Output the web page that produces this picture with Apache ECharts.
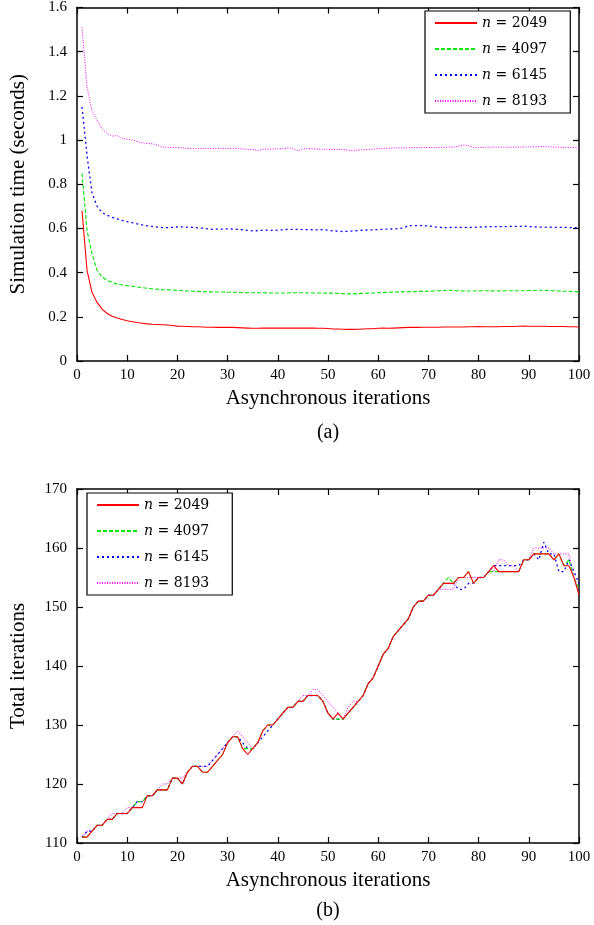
<!DOCTYPE html>
<html>
<head>
<meta charset="utf-8">
<script src="https://cdn.jsdelivr.net/npm/echarts@6/dist/echarts.min.js"></script>
<style>
  html, body { margin: 0; padding: 0; background: #fff; }
  #chart { width: 594px; height: 925px; }
</style>
</head>
<body>
<div id="chart"></div>
<script>
// x = 1..100 (asynchronous iterations)
const names = ['n = 2049', 'n = 4097', 'n = 6145', 'n = 8193'];

// (a) simulation time (seconds)
const time2049 = [0.68,0.41,0.31,0.265,0.235,0.215,0.203,0.195,0.188,0.182,0.178,0.174,0.171,0.168,0.166,0.165,0.164,0.163,0.161,0.158,
  0.157,0.156,0.155,0.155,0.154,0.153,0.153,0.152,0.152,0.152,0.152,0.151,0.150,0.149,0.148,0.148,0.149,0.149,0.149,0.149,
  0.149,0.149,0.149,0.149,0.149,0.149,0.149,0.148,0.148,0.147,0.145,0.145,0.144,0.143,0.143,0.144,0.145,0.146,0.146,0.148,
  0.149,0.148,0.149,0.150,0.151,0.152,0.152,0.152,0.153,0.153,0.153,0.153,0.154,0.154,0.154,0.154,0.154,0.155,0.155,0.156,
  0.155,0.155,0.155,0.155,0.156,0.156,0.156,0.157,0.158,0.157,0.157,0.157,0.157,0.156,0.156,0.156,0.156,0.155,0.155,0.154];
const time4097 = [0.85,0.59,0.485,0.41,0.38,0.365,0.355,0.348,0.344,0.341,0.338,0.335,0.332,0.329,0.327,0.325,0.323,0.322,0.321,0.320,
  0.318,0.317,0.316,0.315,0.314,0.313,0.313,0.312,0.312,0.311,0.311,0.310,0.310,0.309,0.309,0.309,0.309,0.308,0.308,0.308,
  0.308,0.308,0.309,0.309,0.309,0.308,0.308,0.308,0.308,0.307,0.307,0.306,0.305,0.304,0.304,0.305,0.306,0.307,0.308,0.309,
  0.310,0.311,0.312,0.313,0.313,0.314,0.314,0.315,0.315,0.316,0.317,0.318,0.319,0.321,0.319,0.318,0.317,0.317,0.317,0.318,
  0.318,0.318,0.317,0.317,0.318,0.318,0.318,0.318,0.318,0.319,0.319,0.320,0.320,0.319,0.318,0.317,0.316,0.315,0.314,0.313];
const time6145 = [1.15,0.93,0.76,0.70,0.672,0.66,0.65,0.643,0.636,0.631,0.626,0.621,0.616,0.612,0.609,0.606,0.604,0.604,0.605,0.607,
  0.607,0.606,0.605,0.603,0.601,0.598,0.596,0.597,0.597,0.598,0.597,0.596,0.594,0.591,0.589,0.590,0.592,0.592,0.591,0.592,
  0.594,0.596,0.596,0.596,0.595,0.595,0.594,0.593,0.595,0.592,0.589,0.588,0.586,0.587,0.589,0.590,0.592,0.593,0.594,0.595,
  0.596,0.597,0.598,0.599,0.602,0.612,0.613,0.613,0.612,0.611,0.608,0.605,0.604,0.604,0.605,0.605,0.605,0.605,0.605,0.606,
  0.607,0.608,0.608,0.608,0.608,0.609,0.609,0.609,0.610,0.609,0.607,0.606,0.606,0.606,0.605,0.605,0.605,0.604,0.604,0.604];
const time8193 = [1.51,1.24,1.13,1.09,1.05,1.03,1.018,1.02,1.008,1.004,1.0,0.993,0.987,0.985,0.983,0.978,0.968,0.967,0.967,0.966,
  0.965,0.962,0.961,0.961,0.962,0.961,0.962,0.962,0.962,0.962,0.963,0.961,0.960,0.958,0.957,0.952,0.958,0.959,0.959,0.961,
  0.960,0.965,0.962,0.952,0.960,0.961,0.961,0.958,0.959,0.958,0.957,0.957,0.957,0.954,0.951,0.955,0.956,0.957,0.959,0.961,
  0.962,0.963,0.964,0.965,0.965,0.965,0.966,0.966,0.966,0.966,0.967,0.966,0.967,0.968,0.968,0.972,0.978,0.975,0.967,0.966,
  0.967,0.968,0.968,0.968,0.968,0.967,0.968,0.967,0.969,0.970,0.969,0.970,0.971,0.970,0.968,0.968,0.967,0.967,0.966,0.966];

// (b) total iterations
const iter2049 = [111,111,112,113,113,114,114,115,115,115,116,116,116,118,118,119,119,119,121,121,
  120,122,123,123,122,122,123,124,125,127,128,128,126,125,126,127,129,130,130,131,
  132,133,133,134,134,135,135,135,134,132,131,132,131,132,133,134,135,137,138,140,
  142,143,145,146,147,148,150,151,151,152,152,153,154,154,154,155,155,156,154,155,
  155,156,157,156,156,156,156,156,158,158,159,159,159,159,158,159,157,157,155,152];
const iter4097 = [111,111,112,113,113,114,114,115,115,115,116,117,117,118,118,119,119,119,121,121,
  120,122,123,123,122,122,123,124,125,127,128,128,126,126,126,127,129,130,130,131,
  132,133,133,134,134,135,135,135,134,132,131,131,131,132,133,134,135,137,138,140,
  142,143,145,146,147,148,150,151,151,152,152,153,154,155,154,155,155,156,154,155,
  155,156,156,156,156,156,156,156,158,158,159,159,159,159,158,159,157,158,155,153];
const iter6145 = [111,112,112,113,113,114,114,115,115,115,116,117,117,118,118,119,119,119,121,121,
  120,122,123,123,123,123,124,125,126,127,128,128,127,126,126,127,128,129,130,131,
  132,133,133,134,134,135,135,135,134,132,131,131,131,132,133,134,135,137,138,140,
  142,143,145,146,147,148,150,151,151,152,152,153,154,154,154,153,153,154,154,155,
  155,156,157,157,157,157,157,157,158,158,159,158,161,159,159,156,156,158,156,154];
const iter8193 = [111,112,112,113,113,114,115,115,115,116,116,117,117,118,118,119,120,120,121,121,
  121,122,123,123,123,123,124,125,126,127,128,129,128,127,126,127,129,130,130,131,
  132,133,133,134,135,135,136,136,135,134,133,132,131,133,134,134,135,137,138,140,
  142,143,145,146,147,148,150,151,151,152,152,153,153,153,153,155,155,155,155,155,
  155,156,156,158,158,157,157,156,158,158,160,160,160,160,159,159,159,159,155,153];

const colors = ['#ff0000', '#00e600', '#0000ff', '#ff00ff'];
const dashes = ['solid', [4, 2], [2, 3], [1, 1.5]];
const widths = [1.1, 1.1, 1.3, 1];

(function () {
  let fig = {
    font: 'Liberation Serif',
    init() {
      this.chart = echarts.init(document.getElementById('chart'));
      this.chart.setOption(this.buildOption());
    },
    toPairs(arr) {
      return arr.map((v, i) => [i + 1, v]);
    },
    axisX(grid, pos, show) {
      return {
        type: 'value', gridIndex: grid, position: pos,
        min: 0, max: 100, interval: 10,
        name: show ? 'Asynchronous iterations' : '',
        nameLocation: 'middle', nameGap: 27,
        nameTextStyle: { fontFamily: this.font, fontSize: 21, color: '#000' },
        axisLine: { show: true, onZero: false, lineStyle: { color: '#000', width: 1.5 } },
        axisTick: { show: true, inside: true, length: 6, lineStyle: { color: '#000', width: 1.2 } },
        axisLabel: { show: show, fontFamily: this.font, fontSize: 15, color: '#000', margin: 7 },
        splitLine: { show: false }
      };
    },
    axisY(grid, pos, show, min, max, step, title) {
      return {
        type: 'value', gridIndex: grid, position: pos,
        min: min, max: max, interval: step,
        name: show ? title : '',
        nameLocation: 'middle', nameGap: 48,
        nameTextStyle: { fontFamily: this.font, fontSize: 21, color: '#000' },
        axisLine: { show: true, onZero: false, lineStyle: { color: '#000', width: 1.5 } },
        axisTick: { show: true, inside: true, length: 6, lineStyle: { color: '#000', width: 1.2 } },
        axisLabel: { show: show, fontFamily: this.font, fontSize: 15, color: '#000', margin: 10 },
        splitLine: { show: false }
      };
    },
    legendBox(left, top) {
      return {
        left: left, top: top,
        orient: 'vertical',
        data: names,
        itemWidth: 42, itemHeight: 14, itemGap: 12,
        padding: [5, 23, 5, 9],
        borderColor: '#000', borderWidth: 1.2, backgroundColor: '#fff',
        selectedMode: false,
        itemStyle: { opacity: 0 },
        formatter: name => '{i|n}' + name.slice(1),
        textStyle: {
          fontFamily: 'DejaVu Serif', fontSize: 14, color: '#000',
          rich: { i: { fontFamily: 'DejaVu Serif', fontStyle: 'italic', fontSize: 14 } }
        }
      };
    },
    lineSeries(name, k, data, xi, yi) {
      return {
        name: name, type: 'line',
        xAxisIndex: xi, yAxisIndex: yi,
        data: this.toPairs(data),
        symbol: 'none', smooth: false,
        color: colors[k],
        lineStyle: { color: colors[k], width: widths[k], type: dashes[k] },
        z: 10 - k
      };
    },
    buildOption() {
      let timeSets = [time2049, time4097, time6145, time8193];
      let iterSets = [iter2049, iter4097, iter6145, iter8193];
      let series = [];
      timeSets.forEach((d, k) => series.push(this.lineSeries(names[k], k, d, 0, 0)));
      iterSets.forEach((d, k) => series.push(this.lineSeries(names[k], k, d, 2, 2)));
      let capStyle = { fontFamily: this.font, fontSize: 20, fontWeight: 'normal', color: '#000' };
      return {
        animation: false,
        backgroundColor: '#fff',
        title: [
          { text: '(a)', left: 328, top: 423, textAlign: 'center', padding: 0, textStyle: capStyle },
          { text: '(b)', left: 328, top: 901, textAlign: 'center', padding: 0, textStyle: capStyle }
        ],
        grid: [
          { left: 77, top: 5, width: 502, height: 356 },
          { left: 77, top: 489, width: 502, height: 354 }
        ],
        xAxis: [
          this.axisX(0, 'bottom', true),
          this.axisX(0, 'top', false),
          this.axisX(1, 'bottom', true),
          this.axisX(1, 'top', false)
        ],
        yAxis: [
          this.axisY(0, 'left', true, 0, 1.6, 0.2, 'Simulation time (seconds)'),
          this.axisY(0, 'right', false, 0, 1.6, 0.2, ''),
          this.axisY(1, 'left', true, 110, 170, 10, 'Total iterations'),
          this.axisY(1, 'right', false, 110, 170, 10, '')
        ],
        legend: [
          this.legendBox(425, 11),
          this.legendBox(87, 493)
        ],
        series: series
      };
    }
  };
  fig.init();
})();
</script>
</body>
</html>
